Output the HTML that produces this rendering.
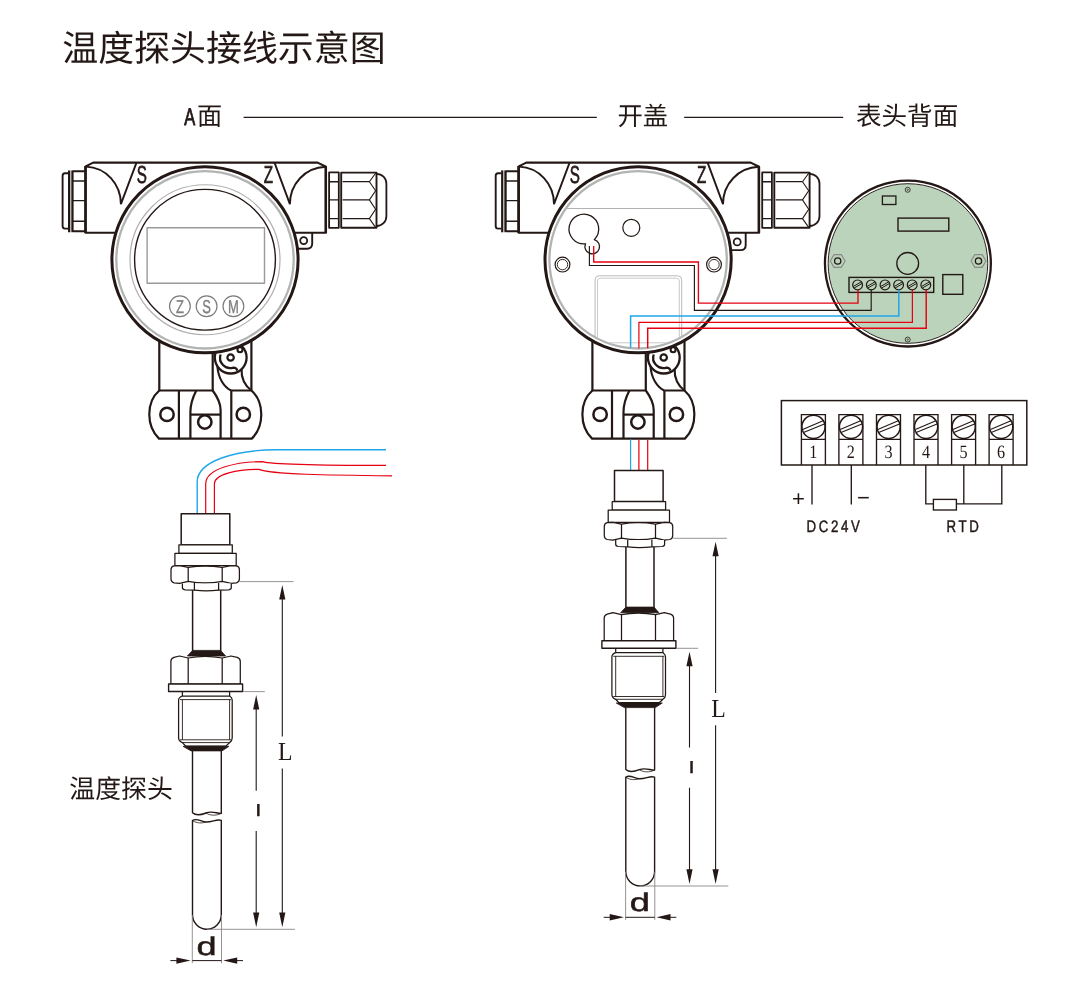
<!DOCTYPE html>
<html lang="zh-CN">
<head>
<meta charset="utf-8">
<title>温度探头接线示意图</title>
<style>
html,body{margin:0;padding:0;background:#fff;}
body{width:1080px;height:982px;overflow:hidden;position:relative;font-family:"Liberation Sans","Noto Sans CJK SC",sans-serif;color:#231815;}
svg{position:absolute;left:0;top:0;display:block;will-change:transform;}
svg text{text-rendering:geometricPrecision;}
.cjk{font-family:"Liberation Sans","Noto Sans CJK SC",sans-serif;}
</style>
</head>
<body>
<svg width="1080" height="982" viewBox="0 0 1080 982">
<rect width="1080" height="982" fill="#fff"/>
<!-- headings -->
<g class="cjk" fill="#231815">
<text x="62.2" y="60.6" font-size="35.95" font-weight="400" font-family="'Liberation Sans', 'Noto Sans CJK SC', sans-serif">温度探头接线示意图</text>
<text transform="translate(184.2,124.6) scale(0.68,1)" font-size="24.2" font-family="'Liberation Sans', sans-serif" stroke="#231815" stroke-width="0.9">A</text>
<text x="197.1" y="125.1" font-size="25.2" font-weight="400" font-family="'Liberation Sans', 'Noto Sans CJK SC', sans-serif">面</text>
<text x="617.4" y="125.3" font-size="25.4" font-weight="400" font-family="'Liberation Sans', 'Noto Sans CJK SC', sans-serif">开盖</text>
<text x="855.9" y="125.3" font-size="25.6" font-weight="400" font-family="'Liberation Sans', 'Noto Sans CJK SC', sans-serif">表头背面</text>
<text x="69.3" y="798.2" font-size="25.9" font-weight="400" font-family="'Liberation Sans', 'Noto Sans CJK SC', sans-serif">温度探头</text>
</g>
<path d="M243.6,117.4 H596.8 M684.2,117.4 H843.2" stroke="#231815" stroke-width="1.2" fill="none"/>
<!-- left device (A side) -->
<g transform="translate(0,0)" stroke="#231815" fill="none" stroke-width="2.2" stroke-linejoin="round" stroke-linecap="butt">
<path d="M68.2,173.2 H65 Q62.6,173.2 62.6,175.8 V226 Q62.6,228.6 65,228.6 H68.2" stroke-width="1.9"/>
<line x1="69" y1="170.4" x2="69" y2="232.3" stroke-width="2"/>
<line x1="71.1" y1="170.4" x2="71.1" y2="232.3" stroke-width="0.8"/>
<path d="M85,171.2 H72.6 V231.2 H85" stroke-width="2"/>
<path d="M72.6,181 H85 M72.6,200.6 H85 M72.6,221.2 H85" stroke-width="1.4"/>
<rect x="329.1" y="172.4" width="9.7" height="55.4" stroke-width="1.8"/>
<path d="M329.1,181.7 H338.8 M329.1,199.9 H338.8 M329.1,218.6 H338.8" stroke-width="1.4"/>
<rect x="341.2" y="172.6" width="35.3" height="55.2" stroke-width="1.9"/>
<path d="M342.6,181.7 H369.4 M342.6,199.9 H369.4 M342.6,218.6 H369.4" stroke-width="1.3"/>
<path d="M375.6,173.2 L369.4,181.7 L375.6,190.8 L369.4,199.9 L375.6,209.2 L369.4,218.6 L375.6,227.4" stroke-width="1.1"/>
<path d="M376.6,173.8 A9.8,9.8 0 0 1 386.4,183.6 V216.2 A9.8,9.8 0 0 1 376.6,226" stroke-width="1.8"/>
<path d="M312.2,232 V243.6 Q312.2,248.8 307,248.8 H297" stroke-width="1.9" fill="#fff"/>
<circle cx="303.7" cy="240.6" r="3.5" stroke-width="1.8"/>
<path d="M93.2,162.6 H317.6 L326,166.7 V232.7 H85.6 V166.4 Z" fill="#fff" stroke-width="2.1"/>
<line x1="85.5" y1="166" x2="85.5" y2="233" stroke-width="2.6"/>
<line x1="325.7" y1="166.4" x2="325.7" y2="233" stroke-width="2.5"/>
<path d="M86,166.6 C106,167.4 120.9,184 120.9,204.2 L136.4,162.8" stroke-width="1.9" stroke-linejoin="miter"/>
<path d="M325.6,166.8 C305,167.6 289.9,184 289.9,204.2 L274.6,162.8" stroke-width="1.9" stroke-linejoin="miter"/>
<path d="M159.3,340 V390.5 H251.4 V340 Z" fill="#fff" stroke="none"/>
<path d="M159.3,390.5 C146,402 146,426 159,438.6 H251.8 C264.5,426 264.5,402 251.4,390.5" fill="#fff"/>
<path d="M159.3,340 V390.5 H212.7 V350 M251.4,340 V390.5 H231.2"/>
<path d="M178.9,390.5 V438.6 M231.3,390.5 V438.6"/>
<path d="M196.3,390.5 C192.4,398 190.4,405 190.4,412 V438.6"/>
<path d="M212.7,390.5 C217.5,397 220.6,403 220.6,410 V438.6"/>
<path d="M190.4,414.6 H220.6"/>
<circle cx="167" cy="414.4" r="6.7" stroke-width="2.5"/>
<circle cx="204.8" cy="422" r="6.7" stroke-width="2.5"/>
<circle cx="243.3" cy="414.4" r="6.7" stroke-width="2.5"/>
<circle cx="230.7" cy="357.6" r="15.9" stroke-width="2.3"/>
<path d="M217.4,366 C218,378 224,387 231.2,390.5" stroke-width="2.1"/>
<path d="M241.6,369.5 C241,378 245,386 251.4,390.5" stroke-width="2.1"/>
<path d="M220.6,354.5 A10.3,10.3 0 0 0 233.5,367.6 Q236.5,367.6 237.4,370.6" stroke-width="2.3"/>
<circle cx="230.6" cy="357.5" r="3.2" stroke-width="2.2"/>
<circle cx="240" cy="349.8" r="2.5" stroke-width="2.1" fill="#fff"/>
<circle cx="205" cy="259.75" r="93.1" fill="#fff" stroke-width="3"/>
<circle cx="205" cy="259.8" r="88.7" stroke="#b2b3b3" stroke-width="2.3"/>
<circle cx="205" cy="259.75" r="75" stroke="#b0b0b0" stroke-width="1.2"/>
<circle cx="205" cy="259.75" r="70.4" stroke-width="1.4"/>
<rect x="147.1" y="227.8" width="117.4" height="55.4" stroke="#9a9a9a" stroke-width="1.4"/>
<circle cx="179.9" cy="306.3" r="10.4" stroke="#7c7c7c" stroke-width="1.2"/>
<circle cx="206.6" cy="306.3" r="10.4" stroke="#7c7c7c" stroke-width="1.2"/>
<circle cx="233.4" cy="306.3" r="10.4" stroke="#7c7c7c" stroke-width="1.2"/>
</g>
<g transform="translate(0,0)" font-family="'Liberation Sans', sans-serif" fill="#231815">
<text transform="translate(136.7,183.2) scale(0.62,1)" font-size="24.5" stroke="#231815" stroke-width="0.7">S</text>
<text transform="translate(263.8,183.2) scale(0.62,1)" font-size="24.5" stroke="#231815" stroke-width="0.7">Z</text>
<text transform="translate(179.9,313.2) scale(0.7,1)" font-size="18.6" text-anchor="middle" fill="#808080" stroke="#808080" stroke-width="0.4">Z</text>
<text transform="translate(206.6,313.2) scale(0.7,1)" font-size="18.6" text-anchor="middle" fill="#808080" stroke="#808080" stroke-width="0.4">S</text>
<text transform="translate(233.4,313.2) scale(0.7,1)" font-size="18.6" text-anchor="middle" fill="#808080" stroke="#808080" stroke-width="0.4">M</text>
</g>
<!-- right device (cover open) -->
<g transform="translate(433.1,0)" stroke="#231815" fill="none" stroke-width="2.2" stroke-linejoin="round" stroke-linecap="butt">
<path d="M68.2,173.2 H65 Q62.6,173.2 62.6,175.8 V226 Q62.6,228.6 65,228.6 H68.2" stroke-width="1.9"/>
<line x1="69" y1="170.4" x2="69" y2="232.3" stroke-width="2"/>
<line x1="71.1" y1="170.4" x2="71.1" y2="232.3" stroke-width="0.8"/>
<path d="M85,171.2 H72.6 V231.2 H85" stroke-width="2"/>
<path d="M72.6,181 H85 M72.6,200.6 H85 M72.6,221.2 H85" stroke-width="1.4"/>
<rect x="329.1" y="172.4" width="9.7" height="55.4" stroke-width="1.8"/>
<path d="M329.1,181.7 H338.8 M329.1,199.9 H338.8 M329.1,218.6 H338.8" stroke-width="1.4"/>
<rect x="341.2" y="172.6" width="35.3" height="55.2" stroke-width="1.9"/>
<path d="M342.6,181.7 H369.4 M342.6,199.9 H369.4 M342.6,218.6 H369.4" stroke-width="1.3"/>
<path d="M375.6,173.2 L369.4,181.7 L375.6,190.8 L369.4,199.9 L375.6,209.2 L369.4,218.6 L375.6,227.4" stroke-width="1.1"/>
<path d="M376.6,173.8 A9.8,9.8 0 0 1 386.4,183.6 V216.2 A9.8,9.8 0 0 1 376.6,226" stroke-width="1.8"/>
<path d="M312.59999999999997,232 V244.9 Q312.59999999999997,250.10000000000002 307.4,250.10000000000002 H297" stroke-width="1.9" fill="#fff"/>
<circle cx="304.09999999999997" cy="241.9" r="3.5" stroke-width="1.8"/>
<path d="M93.2,162.6 H317.6 L326,166.7 V232.7 H85.6 V166.4 Z" fill="#fff" stroke-width="2.1"/>
<line x1="85.5" y1="166" x2="85.5" y2="233" stroke-width="2.6"/>
<line x1="325.7" y1="166.4" x2="325.7" y2="233" stroke-width="2.5"/>
<path d="M86,166.6 C106,167.4 120.9,184 120.9,204.2 L136.4,162.8" stroke-width="1.9" stroke-linejoin="miter"/>
<path d="M325.6,166.8 C305,167.6 289.9,184 289.9,204.2 L274.6,162.8" stroke-width="1.9" stroke-linejoin="miter"/>
<path d="M159.3,340 V390.5 H251.4 V340 Z" fill="#fff" stroke="none"/>
<path d="M159.3,390.5 C146,402 146,426 159,438.6 H251.8 C264.5,426 264.5,402 251.4,390.5" fill="#fff"/>
<path d="M159.3,340 V390.5 H212.7 V350 M251.4,340 V390.5 H231.2"/>
<path d="M178.9,390.5 V438.6 M231.3,390.5 V438.6"/>
<path d="M196.3,390.5 C192.4,398 190.4,405 190.4,412 V438.6"/>
<path d="M212.7,390.5 C217.5,397 220.6,403 220.6,410 V438.6"/>
<path d="M190.4,414.6 H220.6"/>
<circle cx="167" cy="414.4" r="6.7" stroke-width="2.5"/>
<circle cx="204.8" cy="422" r="6.7" stroke-width="2.5"/>
<circle cx="243.3" cy="414.4" r="6.7" stroke-width="2.5"/>
<circle cx="230.7" cy="357.6" r="15.9" stroke-width="2.3"/>
<path d="M217.4,366 C218,378 224,387 231.2,390.5" stroke-width="2.1"/>
<path d="M241.6,369.5 C241,378 245,386 251.4,390.5" stroke-width="2.1"/>
<path d="M220.6,354.5 A10.3,10.3 0 0 0 233.5,367.6 Q236.5,367.6 237.4,370.6" stroke-width="2.3"/>
<circle cx="230.6" cy="357.5" r="3.2" stroke-width="2.2"/>
<circle cx="240" cy="349.8" r="2.5" stroke-width="2.1" fill="#fff"/>
<circle cx="205" cy="259.75" r="93.1" fill="#fff" stroke-width="3"/>
<circle cx="205" cy="259.8" r="88.7" stroke="#b2b3b3" stroke-width="2.3"/>
<path d="M134,208.5 H277.6" stroke="#a9a9a9" stroke-width="0.9"/>
<path d="M152.4,243.8 A14.85,14.85 0 1 1 161.2,239.6 A7.3,7.3 0 1 1 152.4,243.8 Z" stroke-width="1.3"/>
<circle cx="198.2" cy="227.8" r="8.5" stroke-width="1.2"/>
<circle cx="129.4" cy="264.6" r="7.4" stroke-width="1.2"/>
<circle cx="129.4" cy="264.6" r="5.2" stroke-width="0.9"/>
<circle cx="280.9" cy="264.6" r="7.4" stroke-width="1.2"/>
<circle cx="280.9" cy="264.6" r="5.2" stroke-width="0.9"/>
<path d="M162,336.6 V279.8 Q162,275.8 166,275.8 H244.6 Q248.6,275.8 248.6,279.8 V336.6" stroke="#b9b9b9" stroke-width="1"/>
<path d="M164.4,337.6 V281 Q164.4,278.2 167.2,278.2 H243.4 Q246.2,278.2 246.2,281 V337.6" stroke="#c4c4c4" stroke-width="0.9"/>
<path d="M176.5,342.8 H233.5" stroke="#c4c4c4" stroke-width="0.9"/>
</g>
<g transform="translate(433.1,0)" font-family="'Liberation Sans', sans-serif" fill="#231815">
<text transform="translate(136.7,183.2) scale(0.62,1)" font-size="24.5" stroke="#231815" stroke-width="0.7">S</text>
<text transform="translate(263.8,183.2) scale(0.62,1)" font-size="24.5" stroke="#231815" stroke-width="0.7">Z</text>
</g>
<!-- PCB -->
<g stroke="#231815" fill="none" stroke-width="1.5">
<circle cx="907.9" cy="263.55" r="82.95" stroke-width="2.3" fill="#fff"/>
<circle cx="907.95" cy="263.5" r="79.8" stroke-width="0.95" fill="#bad3ba"/>
<circle cx="907.7" cy="189.8" r="2.5" stroke-width="0.8"/>
<circle cx="907.7" cy="189.8" r="0.7" stroke-width="0.6"/>
<circle cx="907.7" cy="339.6" r="2.5" stroke-width="0.8"/>
<circle cx="907.7" cy="339.6" r="0.7" stroke-width="0.6"/>
<rect x="882.4" y="196" width="13.5" height="8.5" stroke-width="1.3"/>
<rect x="898" y="218.1" width="50.8" height="13" stroke-width="1.4"/>
<circle cx="907.7" cy="263.4" r="10.9" stroke-width="1.3"/>
<polygon points="845.1,261.0 841.4,267.4 834.0,267.4 830.3,261.0 834.0,254.6 841.4,254.6" stroke="#8a8a8a" stroke-width="1.1"/>
<circle cx="837.7" cy="261" r="3.15" stroke-width="1.3"/>
<polygon points="985.9,261.0 982.2,267.4 974.8,267.4 971.1,261.0 974.8,254.6 982.2,254.6" stroke="#8a8a8a" stroke-width="1.1"/>
<circle cx="978.5" cy="261" r="3.15" stroke-width="1.3"/>
<rect x="849" y="277.4" width="84.7" height="15" stroke-width="1.4"/>
<circle cx="857.6" cy="284.9" r="4.9" stroke-width="1.2"/>
<path d="M853.2,286.5 L861.2,281.9 M854.0,288.09999999999997 L862.0,283.5" stroke-width="1"/>
<circle cx="871.3" cy="284.9" r="4.9" stroke-width="1.2"/>
<path d="M866.9,286.5 L874.9,281.9 M867.6999999999999,288.09999999999997 L875.6999999999999,283.5" stroke-width="1"/>
<circle cx="885" cy="284.9" r="4.9" stroke-width="1.2"/>
<path d="M880.6,286.5 L888.6,281.9 M881.4,288.09999999999997 L889.4,283.5" stroke-width="1"/>
<circle cx="898.6" cy="284.9" r="4.9" stroke-width="1.2"/>
<path d="M894.2,286.5 L902.2,281.9 M895.0,288.09999999999997 L903.0,283.5" stroke-width="1"/>
<circle cx="912.2" cy="284.9" r="4.9" stroke-width="1.2"/>
<path d="M907.8000000000001,286.5 L915.8000000000001,281.9 M908.6,288.09999999999997 L916.6,283.5" stroke-width="1"/>
<circle cx="925.8" cy="284.9" r="4.9" stroke-width="1.2"/>
<path d="M921.4,286.5 L929.4,281.9 M922.1999999999999,288.09999999999997 L930.1999999999999,283.5" stroke-width="1"/>
<rect x="942.8" y="274.6" width="20" height="19.7" stroke-width="1.4"/>
</g>
<!-- wires -->
<g fill="none" stroke-width="1.2" stroke-linejoin="miter">
<path d="M589.4,246 V265.5 H694.4 V310.4 H871.2 V289.8" stroke="#231815" stroke-width="1.15"/>
<path d="M593.7,246 V262 H698.4 V303.1 H858 V289.8" stroke="#e60012" stroke-width="1.35"/>
<path d="M630.6,347.8 V316 H898.8 V289.8" stroke="#1fa7e8" stroke-width="1.5"/>
<path d="M638.9,348.4 V322.3 H912.4 V289.8" stroke="#e60012"/>
<path d="M647.7,348.2 V328.2 H926.2 V289.8" stroke="#e60012" stroke-width="1.45"/>
<path d="M630.6,439.6 V470.6" stroke="#1fa7e8"/>
<path d="M638.9,439.6 V470.6 M647.7,439.6 V470.6" stroke="#e60012"/>
<path d="M197.2,513.6 V482 C197.2,461 236,449.8 276,449.8 H386" stroke="#1fa7e8" stroke-width="1.4"/>
<path d="M205.7,513.6 V484 C205.7,468 238,461.6 262.6,461.6 C272,464.4 330,465.4 386,465.4" stroke="#e60012"/>
<path d="M214.4,513.6 V484 C214.4,474 238,469.4 259,469.4 C270,474.4 330,475.2 392,475.8" stroke="#e60012"/>
</g>
<!-- probes -->
<g transform="translate(0,0)" stroke="#231815" fill="none" stroke-width="1.25" stroke-linejoin="round">
<rect x="181.2" y="513.8" width="48.6" height="31" fill="#fff" stroke-width="1.5"/>
<rect x="178.9" y="544.8" width="53.4" height="8.5" fill="#fff"/>
<rect x="174.9" y="553.3" width="61.3" height="12.4" fill="#fff"/>
<path d="M174,565.9 Q171,566.6 171,569.6 V579 Q171,582 174,582.8 L179.5,583.4 L188.2,581.4 Q205,584.6 222.2,581.4 L231,583.4 L236.4,582.8 Q239.4,582 239.4,579 V569.6 Q239.4,566.6 236.4,565.9 L231,565.6 L222.2,567.4 Q205,564.6 188.2,567.4 L179.5,565.6 Z" fill="#fff"/>
<path d="M188.2,567.4 V581.4 M222.2,567.4 V581.4"/>
<path d="M182.4,583.4 V587.6 Q182.4,589.6 185,589.8 L194.4,590.2 Q206,591.4 218.6,590.2 L228.8,589.8 Q231.3,589.6 231.3,587.6 V583.4" fill="#fff"/>
<path d="M194.4,583 V590.2 M218.6,583 V590.2"/>
<path d="M192.6,590.2 V651 M220.7,590.2 V651" stroke-width="1.5"/>
<path d="M192.6,650.4 H220.7 L225.6,656 H187.4 Z" fill="#231815" stroke-width="0.8"/>
<path d="M174,657.4 Q170.9,658.4 170.9,661.4 V684 H240.3 V661.4 Q240.3,658.4 237.2,657.4 L231,656 L222.2,658 Q205,654.6 188.2,658 L179.5,656 Z" fill="#fff"/>
<path d="M188.2,658 V684 M222.2,658 V684"/>
<rect x="168.6" y="684" width="74" height="7.5" fill="#fff" stroke-width="1.4"/>
<path d="M182.4,691.5 V696.2 M229.6,691.5 V696.2"/>
<path d="M182.4,696 H229.6 Q232.2,697.4 232.2,700 V738 Q232.2,741 229.6,742.6 L226,746 H185.6 L182.4,742.6 Q178.6,741 178.6,738 V700 Q178.6,697.4 182.4,696 Z" fill="#fff"/>
<path d="M180,699.6 H231 M180,739.8 H231 M182.4,742.6 H229.6" stroke-width="0.9"/>
<path d="M182.4,699.6 V739.8 M229.6,699.6 V739.8" stroke-width="0.9"/>
<path d="M183,746.3 H229 L222,750.9 H191 Z" fill="#231815" stroke-width="0.8"/>
<path d="M192.5,751 V812.8 C196,816 201,815 206,813 C212,810.6 217,813.6 221.3,813.4 V751" stroke-width="1.4"/>
<path d="M192.5,820.6 C196,817.4 201,821.6 206,822 C212,822.4 217,818.6 221.3,820.4 V914.8 A14.4,14.4 0 0 1 192.5,914.8 Z" stroke-width="1.4"/>
<path d="M206,813 C210,815.6 216,816 221.3,813.4 M192.5,820.6 C197,823.4 202,823.4 206,822" stroke-width="0.8"/>
<path d="M239.6,581.6 H293.6 M242.8,691.6 H264.8 M207,929.3 H295" stroke="#8c8887" stroke-width="0.9"/>
<path d="M192.3,915 V963.2 M221.5,915 V963.2" stroke="#8c8887" stroke-width="0.9"/>
<path d="M282.3,596 V736.4 M282.3,768.6 V918" stroke-width="1.1"/>
<path d="M282.3,585 L285.4,599.6 H279.2 Z M282.3,927.2 L285.4,912.6 H279.2 Z" fill="#231815" stroke="none"/>
<path d="M256.2,706 V790.8 M256.2,831 V918" stroke-width="1.1"/>
<path d="M256.2,695 L259.3,709.6 H253.1 Z M256.2,927.2 L259.3,912.6 H253.1 Z" fill="#231815" stroke="none"/>
<path d="M170.4,960.6 H180 M192.3,960.6 H221.5 M234,960.6 H243" stroke-width="1"/>
<path d="M190.6,960.6 L176.4,957.4 V963.8 Z M223.2,960.6 L237.2,957.4 V963.8 Z" fill="#231815" stroke="none"/>
</g>
<g transform="translate(0,0)" fill="#231815">
<text x="255.9" y="816.2" stroke="#231815" stroke-width="0.3" font-family="'Liberation Sans', sans-serif" font-weight="bold" font-size="16.5">l</text>
<text transform="translate(278,759.8) scale(0.92,1)" font-family="'Liberation Serif', serif" font-size="25.8">L</text>
<text transform="translate(196.4,954.6) scale(1.42,1)" font-family="'Liberation Sans', sans-serif" font-size="25.4" stroke="#231815" stroke-width="0.5">d</text>
</g>
<g transform="translate(433.3,-43.3)" stroke="#231815" fill="none" stroke-width="1.25" stroke-linejoin="round">
<rect x="181.2" y="513.8" width="48.6" height="31" fill="#fff" stroke-width="1.5"/>
<rect x="178.9" y="544.8" width="53.4" height="8.5" fill="#fff"/>
<rect x="174.9" y="553.3" width="61.3" height="12.4" fill="#fff"/>
<path d="M174,565.9 Q171,566.6 171,569.6 V579 Q171,582 174,582.8 L179.5,583.4 L188.2,581.4 Q205,584.6 222.2,581.4 L231,583.4 L236.4,582.8 Q239.4,582 239.4,579 V569.6 Q239.4,566.6 236.4,565.9 L231,565.6 L222.2,567.4 Q205,564.6 188.2,567.4 L179.5,565.6 Z" fill="#fff"/>
<path d="M188.2,567.4 V581.4 M222.2,567.4 V581.4"/>
<path d="M182.4,583.4 V587.6 Q182.4,589.6 185,589.8 L194.4,590.2 Q206,591.4 218.6,590.2 L228.8,589.8 Q231.3,589.6 231.3,587.6 V583.4" fill="#fff"/>
<path d="M194.4,583 V590.2 M218.6,583 V590.2"/>
<path d="M192.6,590.2 V651 M220.7,590.2 V651" stroke-width="1.5"/>
<path d="M192.6,650.4 H220.7 L225.6,656 H187.4 Z" fill="#231815" stroke-width="0.8"/>
<path d="M174,657.4 Q170.9,658.4 170.9,661.4 V684 H240.3 V661.4 Q240.3,658.4 237.2,657.4 L231,656 L222.2,658 Q205,654.6 188.2,658 L179.5,656 Z" fill="#fff"/>
<path d="M188.2,658 V684 M222.2,658 V684"/>
<rect x="168.6" y="684" width="74" height="7.5" fill="#fff" stroke-width="1.4"/>
<path d="M182.4,691.5 V696.2 M229.6,691.5 V696.2"/>
<path d="M182.4,696 H229.6 Q232.2,697.4 232.2,700 V738 Q232.2,741 229.6,742.6 L226,746 H185.6 L182.4,742.6 Q178.6,741 178.6,738 V700 Q178.6,697.4 182.4,696 Z" fill="#fff"/>
<path d="M180,699.6 H231 M180,739.8 H231 M182.4,742.6 H229.6" stroke-width="0.9"/>
<path d="M182.4,699.6 V739.8 M229.6,699.6 V739.8" stroke-width="0.9"/>
<path d="M183,746.3 H229 L222,750.9 H191 Z" fill="#231815" stroke-width="0.8"/>
<path d="M192.5,751 V812.8 C196,816 201,815 206,813 C212,810.6 217,813.6 221.3,813.4 V751" stroke-width="1.4"/>
<path d="M192.5,820.6 C196,817.4 201,821.6 206,822 C212,822.4 217,818.6 221.3,820.4 V914.8 A14.4,14.4 0 0 1 192.5,914.8 Z" stroke-width="1.4"/>
<path d="M206,813 C210,815.6 216,816 221.3,813.4 M192.5,820.6 C197,823.4 202,823.4 206,822" stroke-width="0.8"/>
<path d="M239.6,581.6 H293.6 M242.8,691.6 H264.8 M207,929.3 H295" stroke="#8c8887" stroke-width="0.9"/>
<path d="M192.3,915 V963.2 M221.5,915 V963.2" stroke="#8c8887" stroke-width="0.9"/>
<path d="M282.3,596 V736.4 M282.3,768.6 V918" stroke-width="1.1"/>
<path d="M282.3,585 L285.4,599.6 H279.2 Z M282.3,927.2 L285.4,912.6 H279.2 Z" fill="#231815" stroke="none"/>
<path d="M256.2,706 V790.8 M256.2,831 V918" stroke-width="1.1"/>
<path d="M256.2,695 L259.3,709.6 H253.1 Z M256.2,927.2 L259.3,912.6 H253.1 Z" fill="#231815" stroke="none"/>
<path d="M170.4,960.6 H180 M192.3,960.6 H221.5 M234,960.6 H243" stroke-width="1"/>
<path d="M190.6,960.6 L176.4,957.4 V963.8 Z M223.2,960.6 L237.2,957.4 V963.8 Z" fill="#231815" stroke="none"/>
</g>
<g transform="translate(433.3,-43.3)" fill="#231815">
<text x="255.9" y="816.2" stroke="#231815" stroke-width="0.3" font-family="'Liberation Sans', sans-serif" font-weight="bold" font-size="16.5">l</text>
<text transform="translate(278,759.8) scale(0.92,1)" font-family="'Liberation Serif', serif" font-size="25.8">L</text>
<text transform="translate(196.4,954.6) scale(1.42,1)" font-family="'Liberation Sans', sans-serif" font-size="25.4" stroke="#231815" stroke-width="0.5">d</text>
</g>
<!-- terminal -->
<g stroke="#231815" fill="none" stroke-width="1.35">
<rect x="781.4" y="400.6" width="245.4" height="64.4" stroke-width="1.5"/>
<path d="M801.4,465 V414.6 H825.4 V465 M801.4,439.3 H825.4"/>
<circle cx="813.5" cy="426.85" r="11.6" stroke-width="1.5"/>
<path d="M802.7,429.5 L823.1,420.7 M803.5,432.5 L824.4,423.9" stroke-width="1.1"/>
<path d="M838.9,465 V414.6 H862.9 V465 M838.9,439.3 H862.9"/>
<circle cx="851.0" cy="426.85" r="11.6" stroke-width="1.5"/>
<path d="M840.2,429.5 L860.6,420.7 M841.0,432.5 L861.9,423.9" stroke-width="1.1"/>
<path d="M876.5,465 V414.6 H900.5 V465 M876.5,439.3 H900.5"/>
<circle cx="888.6" cy="426.85" r="11.6" stroke-width="1.5"/>
<path d="M877.8,429.5 L898.2,420.7 M878.6,432.5 L899.5,423.9" stroke-width="1.1"/>
<path d="M914.0,465 V414.6 H938.0 V465 M914.0,439.3 H938.0"/>
<circle cx="926.1" cy="426.85" r="11.6" stroke-width="1.5"/>
<path d="M915.4,429.5 L935.8,420.7 M916.1,432.5 L937.0,423.9" stroke-width="1.1"/>
<path d="M951.6,465 V414.6 H975.6 V465 M951.6,439.3 H975.6"/>
<circle cx="963.7" cy="426.85" r="11.6" stroke-width="1.5"/>
<path d="M952.9,429.5 L973.3,420.7 M953.7,432.5 L974.6,423.9" stroke-width="1.1"/>
<path d="M989.1,465 V414.6 H1013.1 V465 M989.1,439.3 H1013.1"/>
<circle cx="1001.2" cy="426.85" r="11.6" stroke-width="1.5"/>
<path d="M990.5,429.5 L1010.9,420.7 M991.2,432.5 L1012.1,423.9" stroke-width="1.1"/>
<path d="M812,465 V504.4 M851.3,465 V504.4"/>
<path d="M925.8,465 V503.8 H933.4 M956.4,503.8 H1001.8 V465 M963.8,465 V503.8"/>
<rect x="933.4" y="499.4" width="23" height="10.6" fill="#fff"/>
</g>
<g fill="#231815" font-family="'Liberation Serif', serif" font-size="18.8" text-anchor="middle">
<text transform="translate(813.4,458) scale(0.86,1)">1</text>
<text transform="translate(850.9,458) scale(0.86,1)">2</text>
<text transform="translate(888.5,458) scale(0.86,1)">3</text>
<text transform="translate(926.0,458) scale(0.86,1)">4</text>
<text transform="translate(963.6,458) scale(0.86,1)">5</text>
<text transform="translate(1001.1,458) scale(0.86,1)">6</text>
</g>
<g fill="#231815" font-family="'Liberation Sans', sans-serif">
<text x="798.4" y="505.8" font-size="22" text-anchor="middle">+</text>
<text x="863.4" y="505.4" font-size="22" text-anchor="middle">−</text>
<text transform="translate(806.6,532) scale(0.8,1)" font-size="16.6" letter-spacing="3.25" stroke="#231815" stroke-width="0.45">DC24V</text>
<text transform="translate(946.6,532) scale(0.8,1)" font-size="16.6" letter-spacing="3.25" stroke="#231815" stroke-width="0.45">RTD</text>
</g>
</svg>
</body>
</html>
